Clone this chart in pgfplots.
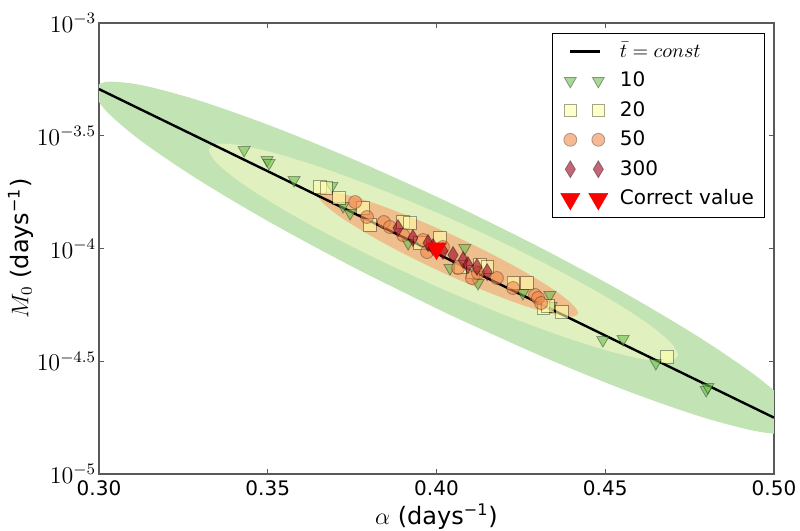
\documentclass[border=0pt]{standalone}
\usepackage{pgfplots}
\usepackage{pgfplotstable}
\pgfplotsset{compat=1.18}
\usetikzlibrary{calc}
\usepackage{fontspec}
\setmainfont{DejaVu Sans}
\definecolor{gOut}{RGB}{194,228,180}
\definecolor{gMid}{RGB}{224,240,190}
\definecolor{gIn}{RGB}{238,190,140}
\definecolor{c10}{RGB}{110,190,80}
\definecolor{c20}{RGB}{255,255,170}
\definecolor{c50}{RGB}{243,137,77}
\definecolor{c300}{RGB}{157,0,30}

\pgfplotsset{
  twomarks/.style={legend image code/.code={\draw[only marks,##1] plot coordinates {(0pt,0pt) (14pt,0pt)};}},
  lineimg/.style={legend image code/.code={\draw[##1] (0pt,0pt) -- (15pt,0pt);}},
}

\pgfplotstableread{
a ly
0.40341 -4.2904
0.37626 -4.0899
0.35096 -3.8861
0.32924 -3.6931
0.31257 -3.5238
0.30210 -3.3898
0.29852 -3.3002
0.30210 -3.2612
0.31257 -3.2754
0.32924 -3.3419
0.35096 -3.4561
0.37626 -3.6103
0.40341 -3.7938
0.43056 -3.9943
0.45586 -4.1981
0.47758 -4.3911
0.49425 -4.5604
0.50472 -4.6944
0.50830 -4.7840
0.50472 -4.8230
0.49425 -4.8088
0.47758 -4.7423
0.45586 -4.6281
0.43056 -4.4739
0.40341 -4.2904
}\ellOut

\pgfplotstableread{
a ly
0.40207 -4.1818
0.38409 -4.0586
0.36733 -3.9325
0.35294 -3.8123
0.34190 -3.7062
0.33496 -3.6212
0.33259 -3.5632
0.33496 -3.5362
0.34190 -3.5420
0.35294 -3.5803
0.36733 -3.6483
0.38409 -3.7416
0.40207 -3.8536
0.42005 -3.9768
0.43681 -4.1029
0.45120 -4.2231
0.46224 -4.3292
0.46918 -4.4142
0.47155 -4.4722
0.46918 -4.4992
0.46224 -4.4934
0.45120 -4.4551
0.43681 -4.3871
0.42005 -4.2938
0.40207 -4.1818
}\ellMid

\pgfplotstableread{
a ly
0.40341 -4.1175
0.39344 -4.0466
0.38415 -3.9741
0.37617 -3.9051
0.37005 -3.8444
0.36620 -3.7957
0.36489 -3.7627
0.36620 -3.7475
0.37005 -3.7512
0.37617 -3.7735
0.38415 -3.8129
0.39344 -3.8668
0.40341 -3.9313
0.41338 -4.0022
0.42267 -4.0747
0.43065 -4.1437
0.43677 -4.2044
0.44062 -4.2531
0.44193 -4.2861
0.44062 -4.3013
0.43677 -4.2976
0.43065 -4.2753
0.42267 -4.2359
0.41338 -4.1820
0.40341 -4.1175
}\ellIn

\pgfplotstableread{
a ly
0.3430 -3.5632
0.3498 -3.6075
0.3504 -3.6208
0.3578 -3.6962
0.3690 -3.7228
0.3723 -3.8115
0.3744 -3.8426
0.3916 -3.9756
0.4084 -3.9978
0.4040 -4.0865
0.4123 -4.1530
0.4256 -4.1973
0.4336 -4.2062
0.4339 -4.2550
0.4493 -4.4058
0.4553 -4.4013
0.4650 -4.5078
0.4799 -4.6275
0.4804 -4.6142
}\tTen

\pgfplotstableread{
a ly
0.3655 -3.7273
0.3673 -3.7317
0.3711 -3.7761
0.3782 -3.8204
0.3803 -3.8958
0.3901 -3.8825
0.3921 -3.8869
0.3951 -3.9756
0.4010 -3.9534
0.4070 -4.0820
0.4108 -4.1042
0.4129 -4.0732
0.4150 -4.0820
0.4227 -4.1530
0.4268 -4.1530
0.4316 -4.2639
0.4330 -4.2550
0.4372 -4.2816
0.4683 -4.4812
}\tTwenty

\pgfplotstableread{
a ly
0.3759 -3.7938
0.3794 -3.8603
0.3844 -3.8825
0.3862 -3.9047
0.3901 -3.9401
0.3960 -3.9623
0.3972 -4.0155
0.4019 -3.9933
0.4064 -4.0865
0.4105 -4.1308
0.4123 -4.1086
0.4179 -4.1308
0.4227 -4.1752
0.4292 -4.2062
0.4301 -4.2195
0.4310 -4.2417
}\tFifty

\pgfplotstableread{
a ly
0.3886 -3.9091
0.3930 -3.9534
0.3975 -3.9756
0.3990 -3.9933
0.4019 -4.0111
0.4049 -4.0288
0.4079 -4.0510
0.4093 -4.0732
0.4120 -4.0820
0.4150 -4.1042
}\tThreeH

\begin{document}
\begin{tikzpicture}
\begin{axis}[
  scale only axis, width=337.5pt, height=225.5pt,
  xmin=0.30, xmax=0.50, ymode=log, ymin=1e-5, ymax=1e-3,
  xtick={0.30,0.35,0.40,0.45,0.50},
  xticklabels={0.30,0.35,0.40,0.45,0.50},
  ytick={1e-5,3.16227766e-5,1e-4,3.16227766e-4,1e-3},
  yticklabels={$10^{-5}$,$10^{-4.5}$,$10^{-4}$,$10^{-3.5}$,$10^{-3}$},
  yminorticks=false, xminorticks=false,
  tick align=inside, major tick length=2.5pt,
  axis line style={black!65, line width=0.6pt},
  tick style={black!65, line width=0.5pt},
  x tick label style={font=\fontsize{10}{12}\selectfont},
  y tick label style={font=\fontsize{12}{14}\selectfont, inner sep=1.2pt},
  label style={font=\fontsize{12}{14}\selectfont},
  xlabel={$\alpha$ (days\textsuperscript{−1})},
  ylabel={$M_0$ (days\textsuperscript{−1})},
  xlabel shift=-3pt,
  ylabel shift=-3pt,
  legend cell align=left,
  legend style={at={(0.987,0.978)}, anchor=north east, draw=black, fill=white,
    font=\fontsize{10}{12}\selectfont, inner xsep=4pt, inner ysep=3pt,
    row sep=2.8pt, nodes={inner sep=1.5pt},
    /tikz/every odd column/.append style={column sep=4.5pt}},
]
\coordinate (SW) at (rel axis cs:0,0);
\coordinate (NE) at (rel axis cs:1,1);
\addplot[draw=none, fill=gOut, smooth, forget plot] table[x=a, y expr=10^(\thisrow{ly})] {\ellOut};
\addplot[draw=none, fill=gMid, smooth, forget plot] table[x=a, y expr=10^(\thisrow{ly})] {\ellMid};
\addplot[draw=none, fill=gIn, smooth, forget plot] table[x=a, y expr=10^(\thisrow{ly})] {\ellIn};

\addplot[black, line width=1.2pt, no marks, lineimg]
  coordinates {(0.30,5.093e-4) (0.50,1.778e-5)};
\addlegendentry{$\bar{t} = const$}

\addplot[only marks, mark=triangle*, mark size=3.5pt,
  mark options={rotate=180, fill=c10, fill opacity=0.6, draw=black, draw opacity=0.35, line width=0.4pt},
  twomarks]
  table[x=a, y expr=10^(\thisrow{ly})] {\tTen};
\addlegendentry{10}

\addplot[only marks, mark=square*, mark size=3.1pt,
  mark options={fill=c20, fill opacity=0.6, draw=black, draw opacity=0.35, line width=0.4pt},
  twomarks]
  table[x=a, y expr=10^(\thisrow{ly})] {\tTwenty};
\addlegendentry{20}

\addplot[only marks, mark=*, mark size=3.25pt,
  mark options={fill=c50, fill opacity=0.6, draw=black, draw opacity=0.3, line width=0.4pt},
  twomarks]
  table[x=a, y expr=10^(\thisrow{ly})] {\tFifty};
\addlegendentry{50}

\addplot[only marks, mark=diamond*, mark size=4.25pt,
  mark options={xscale=0.8, fill=c300, fill opacity=0.6, draw=black, draw opacity=0.35, line width=0.4pt},
  twomarks]
  table[x=a, y expr=10^(\thisrow{ly})] {\tThreeH};
\addlegendentry{300}

\addplot[only marks, mark=triangle*, mark size=5.5pt,
  mark options={rotate=180, fill=red, draw=red, line width=0.3pt},
  twomarks]
  coordinates {(0.40,1e-4)};
\addlegendentry{Correct value}
\end{axis}
\pgfresetboundingbox
\path ($(SW)+(-49.5pt,-28.5pt)$) rectangle ($(NE)+(13pt,11.5pt)$);
\end{tikzpicture}
\end{document}
